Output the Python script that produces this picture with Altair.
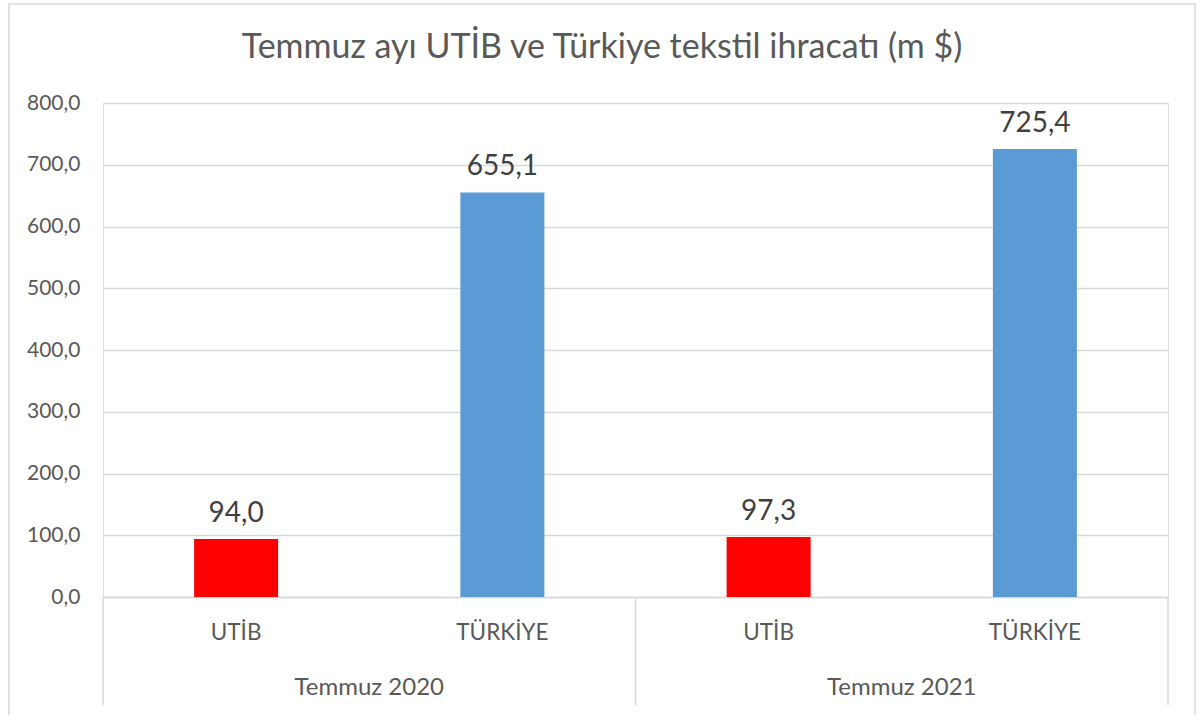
import altair as alt
import pandas as pd

groups = ["Temmuz 2020", "Temmuz 2020", "Temmuz 2021", "Temmuz 2021"]
categories = ["UTİB", "TÜRKİYE", "UTİB", "TÜRKİYE"]
values = [94.0, 655.1, 97.3, 725.4]
bar_colors = ["#FF0000", "#5B9BD5", "#FF0000", "#5B9BD5"]
title_text = "Temmuz ayı UTİB ve Türkiye tekstil ihracatı (m $)"
group_names = ["Temmuz 2020", "Temmuz 2021"]

keys = [f"{g}|{c}" for g, c in zip(groups, categories)]
df = pd.DataFrame({"key": keys, "group": groups, "cat": categories,
                   "value": values, "color": bar_colors})

W, H = 1065, 494
FONT = "Lato"
GRAY = "#595959"
LINE = "#D9D9D9"

xenc = alt.X("key:N", sort=keys,
             scale=alt.Scale(paddingInner=0, paddingOuter=0),
             axis=alt.Axis(title=None, labelExpr="split(datum.label, '|')[1]",
                           labelAngle=0, labelFont=FONT, labelFontSize=22.5,
                           labelColor=GRAY, labelBaseline="middle", labelPadding=35,
                           ticks=False, domain=True, domainColor=LINE, domainWidth=1.5,
                           grid=False))
yenc = alt.Y("value:Q", scale=alt.Scale(domain=[0, 800], nice=False),
             axis=alt.Axis(title=None, values=[0, 100, 200, 300, 400, 500, 600, 700, 800],
                           labelExpr="replace(format(datum.value, '.1f'), '.', ',')",
                           labelFont=FONT, labelFontSize=21, labelColor=GRAY,
                           labelPadding=23, ticks=False, domain=False,
                           gridColor=LINE, gridWidth=1.5))

frame = alt.Chart(pd.DataFrame({"a": [0]})).mark_rect(
    fill=None, stroke=LINE, strokeWidth=1.5).encode(
    x=alt.value(-94), x2=alt.value(1092), y=alt.value(-99), y2=alt.value(640))

bars = alt.Chart(df).mark_bar(size=84).encode(
    x=xenc, y=yenc, color=alt.Color("color:N", scale=None))

labels = alt.Chart(df).transform_calculate(
    lbl="replace(format(datum.value, '.1f'), '.', ',')"
).mark_text(font=FONT, fontSize=28, color="#404040", baseline="alphabetic", dy=-17).encode(
    x=alt.X("key:N", sort=keys), y="value:Q", text="lbl:N")

sep_df = pd.DataFrame({"key": [keys[0], keys[2]]})
sep1 = alt.Chart(sep_df).mark_rule(color=LINE, strokeWidth=1.5).encode(
    x=alt.X("key:N", sort=keys, bandPosition=0), y=alt.value(H), y2=alt.value(602))
sep2 = alt.Chart(pd.DataFrame({"key": [keys[3]]})).mark_rule(color=LINE, strokeWidth=1.5).encode(
    x=alt.X("key:N", sort=keys, bandPosition=1), y=alt.value(H), y2=alt.value(602))

grp_df = pd.DataFrame({"key": [keys[0], keys[2]], "name": group_names})
grp = alt.Chart(grp_df).mark_text(font=FONT, fontSize=24, color=GRAY, baseline="middle").encode(
    x=alt.X("key:N", sort=keys, bandPosition=1), y=alt.value(585), text="name:N")

title = alt.Chart(pd.DataFrame({"t": [title_text]})).mark_text(
    font=FONT, fontSize=34, color=GRAY, baseline="middle").encode(
    x=alt.value(499), y=alt.value(-55), text="t:N")

chart = alt.layer(frame, bars, labels, sep1, sep2, grp, title).properties(
    width=W, height=H,
    autosize=alt.AutoSizeParams(type="none"),
    padding={"left": 103, "top": 103, "right": 34, "bottom": 118},
).configure_view(stroke=None).configure(background="white")

chart.save("out.html", embed_options={"renderer": "svg", "actions": False})
